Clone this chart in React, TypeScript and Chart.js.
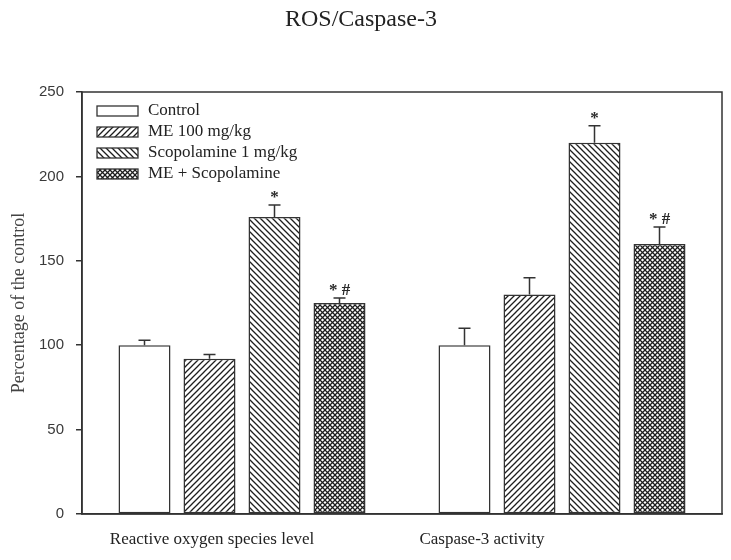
import React, { useEffect, useRef } from "react";
import { Chart, registerables } from "chart.js";

Chart.register(...registerables);

// ---------- data ----------
const TITLE = "ROS/Caspase-3";
const Y_TITLE = "Percentage of the control";
const CATEGORIES = ["Reactive oxygen species level", "Caspase-3 activity"];
const SERIES_NAMES = ["Control", "ME 100 mg/kg", "Scopolamine 1 mg/kg", "ME + Scopolamine"];

const CONTROL = [100, 100];
const ME_100 = [92, 130];
const SCOPOLAMINE = [176, 220];
const ME_SCOPOLAMINE = [125, 160];

const CONTROL_ERR = [3, 10];
const ME_100_ERR = [2.5, 10];
const SCOPOLAMINE_ERR = [7, 10];
const ME_SCOPOLAMINE_ERR = [3, 10];

const CONTROL_MARK = ["", ""];
const ME_100_MARK = ["", ""];
const SCOPOLAMINE_MARK = ["*", "*"];
const ME_SCOPOLAMINE_MARK = ["* #", "* #"];

const Y_MIN = 0;
const Y_MAX = 250;
const Y_STEP = 50;

// ---------- style ----------
const INK = "#333333";
const SERIF = '"Liberation Serif", "Times New Roman", serif';
const SANS = '"Liberation Sans", Arial, sans-serif';
const X_LABEL_SHIFT = [-30, -80];

type PatternKind = "plain" | "fwd" | "back" | "cross";
const PATTERNS: PatternKind[] = ["plain", "fwd", "back", "cross"];

function makePattern(ctx: CanvasRenderingContext2D, kind: PatternKind): CanvasPattern | string {
  if (kind === "plain") return "#ffffff";
  const s = kind === "cross" ? 5 : 6;
  const c = document.createElement("canvas");
  c.width = s;
  c.height = s;
  const g = c.getContext("2d")!;
  g.fillStyle = "#ffffff";
  g.fillRect(0, 0, s, s);
  g.strokeStyle = "#1e1e1e";
  g.lineWidth = kind === "cross" ? 1.25 : 1.3;
  const fwd = () => {
    g.beginPath();
    g.moveTo(-1, s + 1);
    g.lineTo(s + 1, -1);
    g.moveTo(-1, 1);
    g.lineTo(1, -1);
    g.moveTo(s - 1, s + 1);
    g.lineTo(s + 1, s - 1);
    g.stroke();
  };
  const back = () => {
    g.beginPath();
    g.moveTo(-1, -1);
    g.lineTo(s + 1, s + 1);
    g.moveTo(s - 1, -1);
    g.lineTo(s + 1, 1);
    g.moveTo(-1, s - 1);
    g.lineTo(1, s + 1);
    g.stroke();
  };
  if (kind === "fwd") fwd();
  if (kind === "back") back();
  if (kind === "cross") {
    fwd();
    back();
  }
  return ctx.createPattern(c, "repeat")!;
}

export default function App() {
  const ref = useRef<HTMLCanvasElement | null>(null);

  useEffect(() => {
    const canvas = ref.current!;
    const ctx = canvas.getContext("2d")!;
    const fills = PATTERNS.map((k) => makePattern(ctx, k));
    const values = [CONTROL, ME_100, SCOPOLAMINE, ME_SCOPOLAMINE];
    const errors = [CONTROL_ERR, ME_100_ERR, SCOPOLAMINE_ERR, ME_SCOPOLAMINE_ERR];
    const marks = [CONTROL_MARK, ME_100_MARK, SCOPOLAMINE_MARK, ME_SCOPOLAMINE_MARK];

    const overlay = {
      id: "overlay",
      afterDatasetsDraw(chart: any) {
        const c = chart.ctx as CanvasRenderingContext2D;
        const yScale = chart.scales.y;
        const xScale = chart.scales.x;
        const area = chart.chartArea;
        c.save();
        // frame
        c.strokeStyle = INK;
        c.lineWidth = 1.5;
        c.strokeRect(area.left, area.top, area.right - area.left, area.bottom - area.top);

        // error bars + marks
        values.forEach((vals, d) => {
          const meta = chart.getDatasetMeta(d);
          meta.data.forEach((bar: any, i: number) => {
            const top = yScale.getPixelForValue(vals[i]);
            const capY = yScale.getPixelForValue(vals[i] + errors[d][i]);
            c.strokeStyle = INK;
            c.lineWidth = 1.5;
            c.beginPath();
            c.moveTo(bar.x, top);
            c.lineTo(bar.x, capY);
            c.moveTo(bar.x - 6, capY);
            c.lineTo(bar.x + 6, capY);
            c.stroke();
            const m = marks[d][i];
            if (m) {
              c.fillStyle = "#2a2a2a";
              c.font = `bold 17px ${SERIF}`;
              c.textAlign = "center";
              c.textBaseline = "alphabetic";
              c.fillText(m, bar.x, capY - 3);
            }
          });
        });

        // x category labels
        c.fillStyle = "#222";
        c.font = `17px ${SERIF}`;
        c.textAlign = "center";
        c.textBaseline = "middle";
        CATEGORIES.forEach((lab, i) => {
          c.fillText(lab, xScale.getPixelForValue(i) + X_LABEL_SHIFT[i], area.bottom + 26);
        });

        // legend
        const lx = area.left + 15;
        SERIES_NAMES.forEach((name, d) => {
          const cy = area.top + 19 + d * 21;
          c.fillStyle = fills[d] as any;
          c.fillRect(lx, cy - 5, 41, 10);
          c.strokeStyle = INK;
          c.lineWidth = 1.3;
          c.strokeRect(lx, cy - 5, 41, 10);
          c.fillStyle = "#222";
          c.font = `17px ${SERIF}`;
          c.textAlign = "left";
          c.textBaseline = "middle";
          c.fillText(name, lx + 51, cy);
        });
        c.restore();
      },
    };

    const chart = new Chart(canvas, {
      type: "bar",
      data: {
        labels: CATEGORIES,
        datasets: SERIES_NAMES.map((name, d) => ({
          label: name,
          data: values[d],
          backgroundColor: fills[d] as any,
          borderColor: INK,
          borderWidth: 1.5,
          borderSkipped: false,
          categoryPercentage: 0.8125,
          barPercentage: 0.8,
        })),
      },
      options: {
        responsive: false,
        animation: false,
        devicePixelRatio: 1,
        layout: { padding: { left: 0, right: 9, top: 0, bottom: 0 } },
        plugins: {
          legend: { display: false },
          tooltip: { enabled: false },
          title: {
            display: true,
            text: TITLE,
            color: "#222",
            font: { family: SERIF, size: 24, weight: "normal" },
            padding: { top: 5, bottom: 58.2 },
          },
        },
        scales: {
          x: {
            type: "category",
            grid: { display: false },
            border: { display: true, color: INK, width: 1.5 },
            ticks: { display: false },
            afterFit: (s: any) => {
              s.height = 46;
            },
          },
          y: {
            min: Y_MIN,
            max: Y_MAX,
            ticks: {
              stepSize: Y_STEP,
              color: "#3a3a3a",
              font: { family: SANS, size: 15 },
              padding: 12,
            },
            grid: {
              drawOnChartArea: false,
              drawTicks: true,
              tickLength: 6,
              color: INK,
              lineWidth: 1.5,
            },
            border: { display: true, color: INK, width: 1.5 },
            title: {
              display: true,
              text: Y_TITLE,
              color: "#444",
              font: { family: SERIF, size: 18, weight: "normal" },
              padding: { top: 8, bottom: 0 },
            },
            afterFit: (s: any) => {
              s.width = 82;
            },
          },
        },
      },
      plugins: [overlay],
    });
    return () => chart.destroy();
  }, []);

  return (
    <div style={{ position: "fixed", left: 0, top: 0, width: 731, height: 560, background: "#fff" }}>
      <canvas ref={ref} width={731} height={560} style={{ display: "block" }} />
    </div>
  );
}
